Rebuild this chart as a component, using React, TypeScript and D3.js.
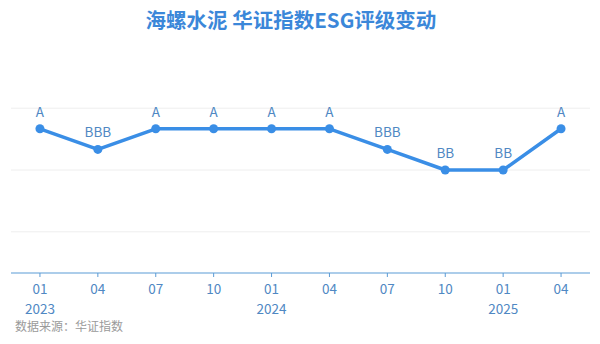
import React from "react";
import * as d3 from "d3";

const categories = ["2023-01", "2023-04", "2023-07", "2023-10", "2024-01", "2024-04", "2024-07", "2024-10", "2025-01", "2025-04"];
const monthLabels = ["01", "04", "07", "10", "01", "04", "07", "10", "01", "04"];
const yearLabels = ["2023", "", "", "", "2024", "", "", "", "2025", ""];
const ratings = ["A", "BBB", "A", "A", "A", "A", "BBB", "BB", "BB", "A"];
const ratingLevels = ["C", "CC", "CCC", "B", "BB", "BBB", "A", "AA", "AAA"];
const gridLevels = ["CC", "BB", "AA"];

const W = 600;
const H = 344;
const FONT = "'Noto Sans CJK SC', 'Microsoft YaHei', sans-serif";

export default function App() {
  const x = d3.scaleBand<string>().domain(categories).range([11, 590]);
  const lvl = (r: string) => ratingLevels.indexOf(r) + 1;
  const y = d3.scaleLinear().domain([0, 9]).range([273, 87.6]);
  const cx = (c: string) => (x(c) as number) + x.bandwidth() / 2;

  const line = d3
    .line<string>()
    .x((_, i) => cx(categories[i]))
    .y((r) => y(lvl(r)));

  return (
    <svg width={W} height={H} style={{ position: "absolute", left: 0, top: 0, background: "#fff" }} fontFamily={FONT}>
      <text x={291} y={28} textAnchor="middle" fontSize={20.5} fontWeight="bold" fill="#3b87d9">
        海螺水泥 华证指数ESG评级变动
      </text>
      {gridLevels.map((g) => (
        <line key={g} x1={11} x2={590} y1={y(lvl(g))} y2={y(lvl(g))} stroke="#eeeeee" strokeWidth={1} />
      ))}
      <line x1={11} x2={590} y1={y(0)} y2={y(0)} stroke="#5b9bd5" strokeWidth={1.2} />
      {categories.map((c, i) => (
        <g key={c}>
          <line x1={cx(c)} x2={cx(c)} y1={y(0)} y2={y(0) + 4} stroke="#5b9bd5" strokeWidth={1} />
          <text x={cx(c)} y={293.5} textAnchor="middle" fontSize={13.5} fill="#4f88c3">
            {monthLabels[i]}
          </text>
          {yearLabels[i] && (
            <text x={cx(c)} y={313.5} textAnchor="middle" fontSize={13.5} fill="#4f88c3">
              {yearLabels[i]}
            </text>
          )}
        </g>
      ))}
      <path d={line(ratings) || ""} fill="none" stroke="#3a8ee6" strokeWidth={3.5} strokeLinejoin="round" />
      {ratings.map((r, i) => (
        <g key={i}>
          <circle cx={cx(categories[i])} cy={y(lvl(r))} r={4.5} fill="#3a8ee6" />
          <text x={cx(categories[i])} y={y(lvl(r)) - 12} textAnchor="middle" fontSize={13.5} fill="#4f88c3">
            {r}
          </text>
        </g>
      ))}
      <text x={15} y={331} fontSize={12} fill="#9a9a9a">
        数据来源：华证指数
      </text>
    </svg>
  );
}
